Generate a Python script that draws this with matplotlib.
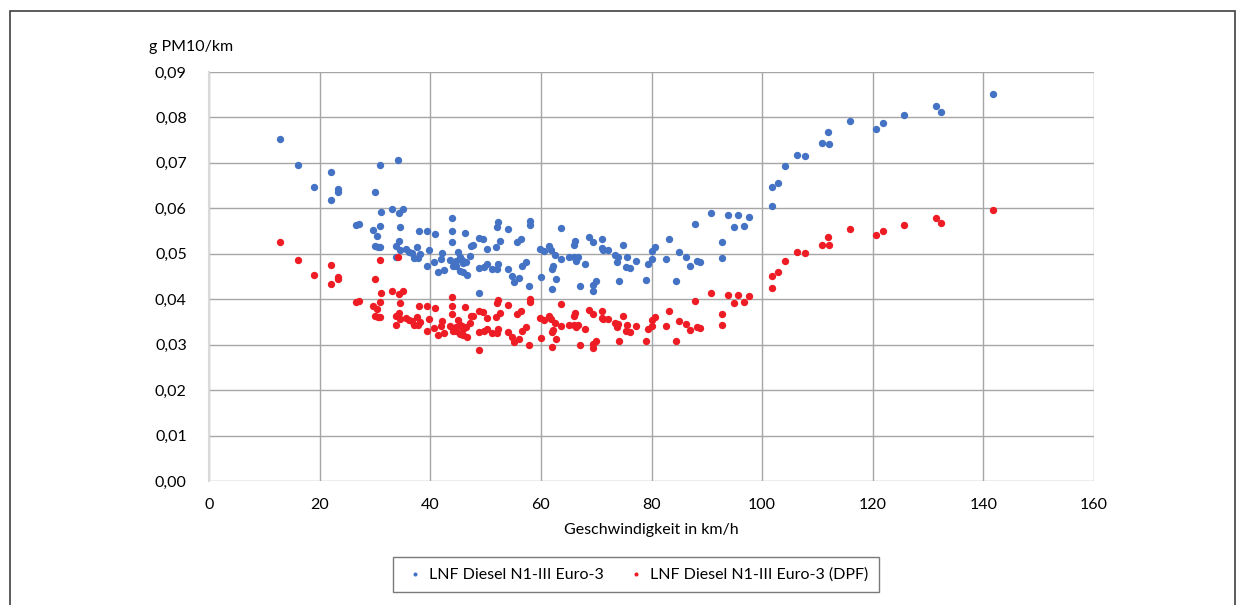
import matplotlib.pyplot as plt
from matplotlib.patches import Rectangle
from matplotlib.ticker import FuncFormatter

# speed in km/h, emission factors in g PM10/km
speed = [12.8, 16.1, 19.0, 22.1, 22.1, 23.3, 23.3, 30.0, 30.9, 34.2,
         31.1, 33.1, 35.1, 34.4, 26.6, 27.2, 30.9, 34.6, 29.7, 38.0,
         39.5, 30.4, 34.4, 30.1, 30.6, 30.9, 33.8, 34.5, 33.8, 35.7,
         37.6, 36.7, 38.2, 37.0, 37.8, 39.7, 39.4, 36.2, 40.8, 43.9,
         43.9, 43.9, 46.2, 40.6, 42.1, 42.0, 41.4, 42.4, 43.5, 44.1,
         44.7, 45.0, 45.3, 45.7, 44.7, 46.0, 46.5, 47.1, 45.3, 45.9,
         46.6, 47.4, 47.7, 48.8, 49.5, 48.9, 49.7, 48.9, 50.3, 50.3,
         51.1, 52.1, 51.8, 52.1, 52.3, 52.6, 52.3, 54.0, 54.0, 54.8,
         55.2, 56.1, 55.6, 56.4, 56.5, 57.3, 57.9, 58.0, 58.0, 60.0,
         59.8, 60.5, 61.5, 61.9, 62.2, 62.0, 62.7, 62.5, 62.0, 63.6,
         63.7, 65.1, 66.0, 66.3, 66.8, 67.9, 65.9, 66.2, 67.0, 68.7,
         69.5, 69.9, 69.5, 69.5, 71.0, 71.0, 71.2, 72.2, 73.4, 74.0,
         73.8, 74.2, 75.6, 77.2, 74.9, 75.4, 76.1, 79.0, 79.4, 80.0,
         80.0, 80.7, 83.2, 82.7, 84.5, 85.0, 86.3, 87.0, 88.3, 88.7,
         87.8, 90.8, 92.7, 92.7, 93.9, 95.7, 97.7, 95.0, 96.8, 101.8,
         101.8, 102.9, 104.2, 106.3, 107.7, 110.9, 112.0, 111.9, 115.8, 120.6,
         121.9, 125.7, 131.4, 132.4, 141.8]

pm_euro3 = [0.0753, 0.0695, 0.0648, 0.0679, 0.0618, 0.0642, 0.0636, 0.0636, 0.0695, 0.0706,
            0.0591, 0.0599, 0.0599, 0.0589, 0.0563, 0.0566, 0.0562, 0.0560, 0.0552, 0.0551,
            0.0551, 0.0540, 0.0528, 0.0517, 0.0515, 0.0516, 0.0517, 0.0508, 0.0492, 0.0511,
            0.0516, 0.0501, 0.0499, 0.0490, 0.0491, 0.0508, 0.0473, 0.0505, 0.0544, 0.0579,
            0.0551, 0.0525, 0.0545, 0.0481, 0.0501, 0.0488, 0.0459, 0.0464, 0.0486, 0.0473,
            0.0473, 0.0505, 0.0492, 0.0486, 0.0484, 0.0479, 0.0483, 0.0495, 0.0463, 0.0459,
            0.0453, 0.0518, 0.0519, 0.0534, 0.0532, 0.0468, 0.0470, 0.0413, 0.0511, 0.0478,
            0.0466, 0.0466, 0.0516, 0.0558, 0.0570, 0.0528, 0.0477, 0.0554, 0.0467, 0.0451,
            0.0437, 0.0446, 0.0525, 0.0533, 0.0473, 0.0483, 0.0428, 0.0572, 0.0563, 0.0448,
            0.0511, 0.0506, 0.0517, 0.0508, 0.0474, 0.0467, 0.0445, 0.0497, 0.0422, 0.0557,
            0.0489, 0.0492, 0.0492, 0.0484, 0.0492, 0.0478, 0.0519, 0.0528, 0.0429, 0.0538,
            0.0525, 0.0441, 0.0432, 0.0417, 0.0533, 0.0512, 0.0508, 0.0508, 0.0497, 0.0494,
            0.0483, 0.0439, 0.0492, 0.0485, 0.0520, 0.0470, 0.0468, 0.0442, 0.0478, 0.0488,
            0.0506, 0.0514, 0.0533, 0.0489, 0.0440, 0.0503, 0.0493, 0.0474, 0.0484, 0.0481,
            0.0566, 0.0590, 0.0525, 0.0490, 0.0585, 0.0585, 0.0582, 0.0558, 0.0561, 0.0606,
            0.0646, 0.0656, 0.0693, 0.0718, 0.0715, 0.0743, 0.0741, 0.0769, 0.0792, 0.0774,
            0.0787, 0.0805, 0.0826, 0.0812, 0.0852]

pm_euro3_dpf = [0.0527, 0.0487, 0.0454, 0.0475, 0.0433, 0.0449, 0.0445, 0.0445, 0.0487, 0.0494,
                0.0414, 0.0419, 0.0419, 0.0412, 0.0394, 0.0396, 0.0393, 0.0392, 0.0386, 0.0386,
                0.0386, 0.0378, 0.0370, 0.0362, 0.0361, 0.0361, 0.0362, 0.0356, 0.0344, 0.0358,
                0.0361, 0.0351, 0.0349, 0.0343, 0.0344, 0.0356, 0.0331, 0.0354, 0.0381, 0.0405,
                0.0386, 0.0368, 0.0382, 0.0337, 0.0351, 0.0342, 0.0321, 0.0325, 0.0340, 0.0331,
                0.0331, 0.0354, 0.0344, 0.0340, 0.0339, 0.0335, 0.0338, 0.0347, 0.0324, 0.0321,
                0.0317, 0.0363, 0.0363, 0.0374, 0.0372, 0.0328, 0.0329, 0.0289, 0.0358, 0.0335,
                0.0326, 0.0326, 0.0361, 0.0391, 0.0399, 0.0370, 0.0334, 0.0388, 0.0327, 0.0316,
                0.0306, 0.0312, 0.0368, 0.0373, 0.0331, 0.0338, 0.0300, 0.0400, 0.0394, 0.0314,
                0.0358, 0.0354, 0.0362, 0.0356, 0.0332, 0.0327, 0.0312, 0.0348, 0.0295, 0.0390,
                0.0342, 0.0344, 0.0344, 0.0339, 0.0344, 0.0335, 0.0363, 0.0370, 0.0300, 0.0377,
                0.0368, 0.0309, 0.0302, 0.0292, 0.0373, 0.0358, 0.0356, 0.0356, 0.0348, 0.0346,
                0.0338, 0.0307, 0.0344, 0.0340, 0.0364, 0.0329, 0.0328, 0.0309, 0.0335, 0.0342,
                0.0354, 0.0360, 0.0373, 0.0342, 0.0308, 0.0352, 0.0345, 0.0332, 0.0339, 0.0337,
                0.0396, 0.0413, 0.0368, 0.0343, 0.0410, 0.0410, 0.0407, 0.0391, 0.0393, 0.0424,
                0.0452, 0.0459, 0.0485, 0.0503, 0.0501, 0.0520, 0.0519, 0.0538, 0.0554, 0.0542,
                0.0551, 0.0564, 0.0578, 0.0568, 0.0596]

x_ticks = [0, 20, 40, 60, 80, 100, 120, 140, 160]
y_ticks = [0.00, 0.01, 0.02, 0.03, 0.04, 0.05, 0.06, 0.07, 0.08, 0.09]

plt.rcParams['font.family'] = ['Lato', 'DejaVu Sans']
plt.rcParams['font.size'] = 11.5

fig = plt.figure(figsize=(12.44, 6.05), dpi=100)
ax = fig.add_axes([209 / 1244, 1 - 481 / 605, 885 / 1244, 409 / 605])

ax.scatter(speed, pm_euro3, s=28, color='#4472C4', linewidths=0, zorder=3,
           label='LNF Diesel N1-III Euro-3')
ax.scatter(speed, pm_euro3_dpf, s=28, color='#EE1C24', linewidths=0, zorder=3,
           label='LNF Diesel N1-III Euro-3 (DPF)')

ax.set_xlim(0, 160)
ax.set_ylim(0, 0.09)
ax.set_xticks(x_ticks)
ax.set_yticks(y_ticks)
ax.yaxis.set_major_formatter(FuncFormatter(lambda v, p: f"{v:.2f}".replace('.', ',')))
ax.grid(color='#a6a6a6', linewidth=1)
ax.set_axisbelow(True)
for s in ['top', 'right', 'bottom']:
    ax.spines[s].set_visible(False)
ax.spines['left'].set_color('#d9d9d9')
ax.spines['left'].set_linewidth(1.5)
ax.tick_params(length=0, colors='#000000', labelsize=11.5)
ax.tick_params(axis='y', pad=16)
ax.tick_params(axis='x', pad=12)

ax.set_xlabel('Geschwindigkeit in km/h', fontsize=11.5, labelpad=8)
fig.text(191 / 1244, 1 - 47 / 605, 'g PM10/km', ha='center', va='center', fontsize=11.5)

fig.legend(loc='center', bbox_to_anchor=(636 / 1244, 1 - 574.5 / 605), ncol=2,
           frameon=True, fancybox=False, edgecolor='#595959', markerscale=0.55,
           handletextpad=0.2, handlelength=1.4, columnspacing=1.3,
           fontsize=11.5, borderpad=0.65)

# outer frame of the figure
fig.patches.append(Rectangle((9.5 / 1244, -0.1), (1235 - 9.5) / 1244, 1.1 - 11 / 605,
                             transform=fig.transFigure, fill=False,
                             edgecolor='#404040', linewidth=1.2))

fig.savefig('out.png', dpi=100)
